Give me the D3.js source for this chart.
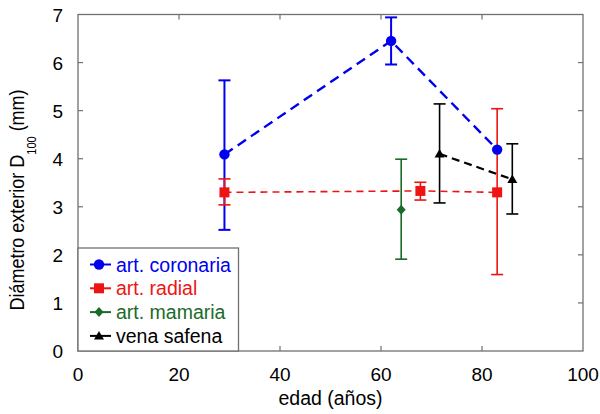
<!DOCTYPE html>
<html>
<head>
<meta charset="utf-8">
<script src="https://cdn.jsdelivr.net/npm/d3@7"></script>
<style>
  body { margin: 0; background: #fff; }
  text { font-family: "Liberation Sans", Arial, sans-serif; }
</style>
</head>
<body>
<svg id="chart" width="600" height="414"></svg>
<script>
const seriesNames = ["art. coronaria", "art. radial", "art. mamaria", "vena safena"];
const seriesColors = ["#0000ee", "#ee1414", "#1a6b2a", "#000000"];
const seriesSymbols = ["circle", "square", "diamond", "triangle"];

// edad (años), D100 (mm), lower / upper error bar ends
const coronariaAge = [29, 62, 83];
const coronariaD = [4.09, 6.45, 4.19];
const coronariaLo = [2.52, 5.96, null];
const coronariaHi = [5.63, 6.94, null];

const radialAge = [29, 67.8, 83];
const radialD = [3.30, 3.33, 3.30];
const radialLo = [3.04, 3.14, 1.59];
const radialHi = [3.58, 3.51, 5.04];

const mamariaAge = [64];
const mamariaD = [2.94];
const mamariaLo = [1.91];
const mamariaHi = [3.99];

const safenaAge = [71.6, 86];
const safenaD = [4.10, 3.57];
const safenaLo = [3.08, 2.85];
const safenaHi = [5.14, 4.31];

const xTicks = [0, 20, 40, 60, 80, 100];
const yTicks = [0, 1, 2, 3, 4, 5, 6, 7];

const svg = d3.select("#chart");
const x = d3.scaleLinear().domain([0, 100]).range([78, 583]);
const y = d3.scaleLinear().domain([0, 7]).range([351, 14.5]);

function pts(age, d, lo, hi) {
  return age.map((a, i) => ({ age: a, d: d[i], lo: lo[i], hi: hi[i] }));
}
const series = [
  { data: pts(coronariaAge, coronariaD, coronariaLo, coronariaHi), lw: 2.4, dash: "10,6", ew: 2 },
  { data: pts(radialAge, radialD, radialLo, radialHi), lw: 1.6, dash: "7,5", ew: 1.6 },
  { data: pts(mamariaAge, mamariaD, mamariaLo, mamariaHi), lw: 1.6, dash: "7,5", ew: 1.6 },
  { data: pts(safenaAge, safenaD, safenaLo, safenaHi), lw: 2.2, dash: "8,5", ew: 1.6 }
];
series.forEach((s, i) => {
  s.name = seriesNames[i];
  s.color = seriesColors[i];
  s.symbol = seriesSymbols[i];
});

// frame and ticks
const frame = "#707070";
svg.append("rect")
  .attr("x", x(0)).attr("y", y(7))
  .attr("width", x(100) - x(0)).attr("height", y(0) - y(7))
  .attr("fill", "none").attr("stroke", frame).attr("stroke-width", 1.3);

const tk = 5;
const axisG = svg.append("g").attr("stroke", frame).attr("stroke-width", 1.2);
xTicks.slice(1, -1).forEach(t => {
  axisG.append("line").attr("x1", x(t)).attr("x2", x(t)).attr("y1", y(0)).attr("y2", y(0) - tk);
  axisG.append("line").attr("x1", x(t)).attr("x2", x(t)).attr("y1", y(7)).attr("y2", y(7) + tk);
});
yTicks.slice(1, -1).forEach(t => {
  axisG.append("line").attr("x1", x(0)).attr("x2", x(0) + tk).attr("y1", y(t)).attr("y2", y(t));
  axisG.append("line").attr("x1", x(100)).attr("x2", x(100) - tk).attr("y1", y(t)).attr("y2", y(t));
});

svg.append("g").selectAll("text")
  .data(xTicks)
  .join("text")
  .attr("x", d => x(d))
  .attr("y", 381)
  .attr("text-anchor", "middle")
  .attr("font-size", 19)
  .text(d => d);

svg.append("g").selectAll("text")
  .data(yTicks)
  .join("text")
  .attr("x", 63)
  .attr("y", d => y(d) + 7)
  .attr("text-anchor", "end")
  .attr("font-size", 19)
  .text(d => d);

svg.append("text")
  .attr("x", x(50))
  .attr("y", 405)
  .attr("text-anchor", "middle")
  .attr("font-size", 19.5)
  .text("edad (años)");

const yl = svg.append("text")
  .attr("transform", "translate(23.5,200) rotate(-90) scale(1,1.15)")
  .attr("text-anchor", "middle")
  .attr("font-size", 18);
yl.append("tspan").text("Diámetro exterior D");
yl.append("tspan").attr("font-size", 11).attr("dy", 11).text("100");
yl.append("tspan").attr("dy", -11).text(" (mm)");

// markers
function marker(g, symbol, color, cx, cy) {
  if (symbol === "circle") {
    g.append("circle").attr("cx", cx).attr("cy", cy).attr("r", 5.2).attr("fill", color);
  } else if (symbol === "square") {
    g.append("rect").attr("x", cx - 5).attr("y", cy - 5).attr("width", 10).attr("height", 10).attr("fill", color);
  } else if (symbol === "diamond") {
    g.append("path").attr("d", `M${cx},${cy - 5}L${cx + 4.5},${cy}L${cx},${cy + 5}L${cx - 4.5},${cy}Z`).attr("fill", color);
  } else {
    g.append("path").attr("d", `M${cx},${cy - 5}L${cx + 5},${cy + 3.5}L${cx - 5},${cy + 3.5}Z`).attr("fill", color);
  }
}

// error bars
const errG = svg.append("g");
series.forEach(s => {
  s.data.filter(p => p.lo != null).forEach(p => {
    const g = errG.append("g").attr("stroke", s.color).attr("stroke-width", s.ew);
    g.append("line").attr("x1", x(p.age)).attr("x2", x(p.age)).attr("y1", y(p.lo)).attr("y2", y(p.hi));
    [p.lo, p.hi].forEach(v => {
      g.append("line").attr("x1", x(p.age) - 6).attr("x2", x(p.age) + 6).attr("y1", y(v)).attr("y2", y(v));
    });
  });
});

// dashed lines
const line = d3.line().x(p => x(p.age)).y(p => y(p.d));
series.forEach(s => {
  if (s.data.length > 1) {
    svg.append("path")
      .attr("d", line(s.data))
      .attr("fill", "none")
      .attr("stroke", s.color)
      .attr("stroke-width", s.lw)
      .attr("stroke-dasharray", s.dash);
  }
});

const markG = svg.append("g");
series.forEach(s => {
  s.data.forEach(p => marker(markG, s.symbol, s.color, x(p.age), y(p.d)));
});

// legend
const legend = svg.append("g");
legend.append("rect")
  .attr("x", x(0)).attr("y", 248)
  .attr("width", 160.5).attr("height", y(0) - 248)
  .attr("fill", "#fff").attr("stroke", frame).attr("stroke-width", 1.3);
series.forEach((s, i) => {
  const ly = 264.5 + i * 23.8;
  legend.append("line")
    .attr("x1", 90).attr("x2", 111).attr("y1", ly).attr("y2", ly)
    .attr("stroke", s.color).attr("stroke-width", 2);
  marker(legend, s.symbol, s.color, 99, ly);
  legend.append("text")
    .attr("x", 116).attr("y", ly + 7)
    .attr("font-size", 19.5)
    .attr("fill", s.color)
    .text(s.name);
});
</script>
</body>
</html>
